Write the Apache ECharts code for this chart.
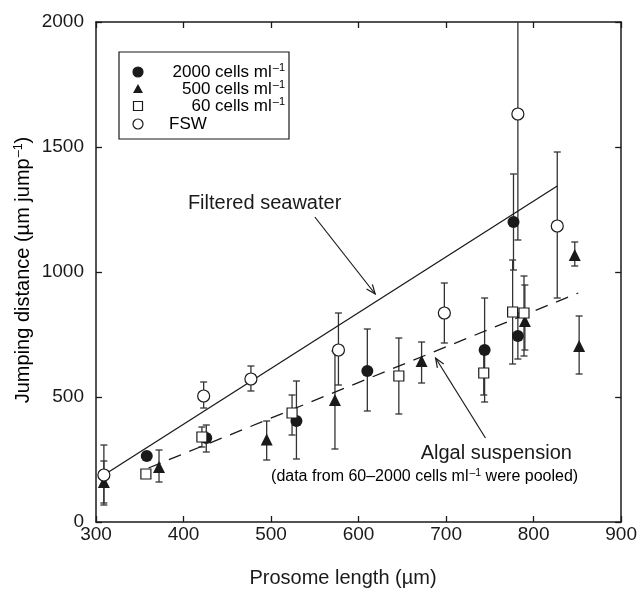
<!DOCTYPE html>
<html>
<head>
<meta charset="utf-8">
<script src="https://cdn.jsdelivr.net/npm/echarts@6/dist/echarts.min.js"></script>
<style>
  html, body { margin: 0; padding: 0; background: #fff; }
  #chart { width: 640px; height: 590px; }
</style>
</head>
<body>
<div id="chart"></div>
<script>
// values: [prosome length, jumping distance]
var cells2000 = [[358, 264], [426, 336], [529, 404], [610, 604], [744, 688], [777, 1200], [782, 744]];
var cells500 = [[309, 160], [372, 220], [495, 330], [573, 488], [672, 644], [790, 804], [847, 1068], [852, 704]];
var cells60 = [[357, 192], [421, 340], [524, 436], [646, 584], [743, 596], [776, 840], [789, 836]];
var fsw = [[309, 188], [423, 504], [477, 572], [577, 688], [698, 836], [782, 1632], [827, 1184]];

// error bars: [x, low, high]
var err2000 = [[426, 280, 388], [529, 252, 564], [610, 444, 772], [744, 480, 896], [777, 1008, 1392], [782, 652, 836]];
var err500 = [[309, 76, 244], [372, 160, 288], [495, 248, 404], [573, 292, 684], [672, 556, 720], [790, 688, 948], [847, 1024, 1120], [852, 592, 824]];
var err60 = [[421, 300, 380], [524, 348, 508], [646, 432, 736], [743, 508, 684], [776, 632, 1048], [789, 664, 984]];
var errFsw = [[309, 68, 308], [423, 456, 560], [477, 524, 624], [577, 548, 836], [698, 716, 956], [782, 1128, 2140], [827, 896, 1480]];

// fitted lines (end points)
var fitSeawater = [[309, 188], [827, 1344]];
var fitAlgal = [[360, 216], [851, 916]];

var xTicks = { min: 300, max: 900, step: 100 };
var yTicks = { min: 0, max: 2000, step: 500 };

var font = 'Liberation Sans, Arial, Helvetica, sans-serif';
var ink = '#1a1a1a';

function errRender(params, api) {
  var x = api.value(0);
  var top = api.coord([x, api.value(2)]);
  var bot = api.coord([x, api.value(1)]);
  var w = 3.5;
  var st = { stroke: '#333', lineWidth: 1.3 };
  return {
    type: 'group',
    children: [
      { type: 'line', shape: { x1: top[0], y1: top[1], x2: bot[0], y2: bot[1] }, style: st },
      { type: 'line', shape: { x1: top[0] - w, y1: top[1], x2: top[0] + w, y2: top[1] }, style: st },
      { type: 'line', shape: { x1: bot[0] - w, y1: bot[1], x2: bot[0] + w, y2: bot[1] }, style: st }
    ]
  };
}

function errSeries(data) {
  return {
    type: 'custom', renderItem: errRender, data: data, clip: true, z: 2,
    encode: { x: 0, y: [1, 2] }, silent: true
  };
}

function dotSeries(data, symbol, size, fill) {
  return {
    type: 'scatter', data: data, symbol: symbol, symbolSize: size, z: 4,
    itemStyle: { color: fill, borderColor: ink, borderWidth: fill === '#fff' ? 1.2 : 0, opacity: 1 }
  };
}

function axisBase(pos, isX) {
  var t = isX ? xTicks : yTicks;
  return {
    type: 'value', position: pos, min: t.min, max: t.max, interval: t.step,
    axisLine: { show: true, onZero: false, lineStyle: { color: ink, width: 1.5 } },
    axisTick: { show: true, inside: true, length: 6, lineStyle: { color: ink, width: 1.3 } },
    splitLine: { show: false },
    axisLabel: { show: false }
  };
}

var plain = function (v) { return String(v); };

var xBottom = axisBase('bottom', true);
xBottom.axisLabel = { show: true, margin: 3, fontSize: 19, color: ink, fontFamily: font, formatter: plain };

var yLeft = axisBase('left', false);
yLeft.axisLabel = { show: true, margin: 12, fontSize: 19, color: ink, fontFamily: font, formatter: plain };

var chart = echarts.init(document.getElementById('chart'));
chart.setOption({
  animation: false,
  backgroundColor: '#fff',
  grid: { left: 96, right: 17, top: 22, bottom: 68 },
  xAxis: [xBottom, axisBase('top', true)],
  yAxis: [yLeft, axisBase('right', false)],
  series: [
    { type: 'line', data: fitSeawater, symbol: 'none', z: 3, lineStyle: { color: ink, width: 1.3 } },
    { type: 'line', data: fitAlgal, symbol: 'none', z: 3, lineStyle: { color: ink, width: 1.3, type: [13, 9] } },
    errSeries(err2000), errSeries(err500), errSeries(err60), errSeries(errFsw),
    dotSeries(cells2000, 'circle', 12, ink),
    dotSeries(cells500, 'triangle', 12, ink),
    dotSeries(cells60, 'rect', 10, '#fff'),
    dotSeries(fsw, 'circle', 12, '#fff')
  ]
});

// annotations placed in data units, converted to pixels
var noteSeawater = { text: [405, 1276], from: [550, 1220], to: [619, 912] };
var noteAlgal = { text: [671, 276], from: [745, 336], to: [688, 656], sub: [500, 180] };

function px(p) { return chart.convertToPixel({ gridIndex: 0 }, p); }

function arrow(from, to) {
  var a = px(from), b = px(to);
  var ang = Math.atan2(b[1] - a[1], b[0] - a[0]);
  var len = 10, spread = 0.38;
  var st = { stroke: ink, lineWidth: 1.2, fill: null };
  return [
    { type: 'line', shape: { x1: a[0], y1: a[1], x2: b[0], y2: b[1] }, style: st },
    { type: 'polyline', shape: { points: [
      [b[0] - len * Math.cos(ang - spread), b[1] - len * Math.sin(ang - spread)],
      [b[0], b[1]],
      [b[0] - len * Math.cos(ang + spread), b[1] - len * Math.sin(ang + spread)]
    ] }, style: st }
  ];
}

var richSup = {
  n: { fontSize: 17, fontFamily: font, color: ink },
  s: { fontSize: 11, fontFamily: font, color: ink, verticalAlign: 'top', padding: [0, 0, 8, 1] }
};

var pS = px(noteSeawater.text), pA = px(noteAlgal.text), pP = px(noteAlgal.sub);
var graphics = [
  { type: 'text', x: pS[0], y: pS[1], style: { text: 'Filtered seawater', font: '20px ' + font, fill: ink, verticalAlign: 'middle' } },
  { type: 'text', x: pA[0], y: pA[1], style: { text: 'Algal suspension', font: '20px ' + font, fill: ink, verticalAlign: 'middle' } },
  { type: 'text', x: pP[0], y: pP[1], style: {
    text: '{n|(data from 60\u20132000 cells ml}{s|\u20131}{n| were pooled)}', verticalAlign: 'middle',
    rich: { n: { fontSize: 16, fontFamily: font, color: ink }, s: { fontSize: 10.5, fontFamily: font, color: ink, padding: [0, 0, 8, 1] } }
  } },
  // axis titles
  { type: 'text', x: 343, y: 578, style: {
    text: 'Prosome length (\u00b5m)', font: '20px ' + font, fill: ink, align: 'center', verticalAlign: 'middle'
  } },
  { type: 'text', x: 23, y: 270, rotation: Math.PI / 2, style: {
    text: '{n|Jumping distance (\u00b5m jump}{s|\u20131}{n|)}', align: 'center', verticalAlign: 'middle',
    rich: { n: { fontSize: 20, fontFamily: font, color: ink }, s: { fontSize: 12.5, fontFamily: font, color: ink, padding: [0, 0, 9, 1] } }
  } },
  // legend box
  { type: 'rect', shape: { x: 119, y: 52, width: 170, height: 87 }, style: { fill: '#fff', stroke: ink, lineWidth: 1.2 }, z: 10 }
];
graphics = graphics.concat(arrow(noteSeawater.from, noteSeawater.to), arrow(noteAlgal.from, noteAlgal.to));

var legendRows = [
  { label: '2000 cells ml', sup: true, shape: 'circle', fill: ink },
  { label: '500 cells ml', sup: true, shape: 'triangle', fill: ink },
  { label: '60 cells ml', sup: true, shape: 'rect', fill: '#fff' },
  { label: 'FSW', sup: false, shape: 'circle', fill: '#fff' }
];
var rowY = [72, 89, 106, 124];
legendRows.forEach(function (r, i) {
  var y = rowY[i], x = 138, mark;
  if (r.shape === 'circle') {
    mark = { type: 'circle', shape: { cx: x, cy: y, r: 5 }, style: { fill: r.fill, stroke: ink, lineWidth: 1.2 } };
  } else if (r.shape === 'triangle') {
    mark = { type: 'polygon', shape: { points: [[x, y - 5], [x + 5, y + 4], [x - 5, y + 4]] }, style: { fill: ink } };
  } else {
    mark = { type: 'rect', shape: { x: x - 4.5, y: y - 4.5, width: 9, height: 9 }, style: { fill: '#fff', stroke: ink, lineWidth: 1.2 } };
  }
  mark.z = 11;
  graphics.push(mark);
  graphics.push({
    type: 'text', z: 11, x: r.sup ? 285 : 169, y: y,
    style: {
      text: r.sup ? '{n|' + r.label + '}{s|\u20131}' : '{n|' + r.label + '}',
      align: r.sup ? 'right' : 'left', verticalAlign: 'middle', rich: richSup
    }
  });
});

chart.setOption({ graphic: graphics });
</script>
</body>
</html>
